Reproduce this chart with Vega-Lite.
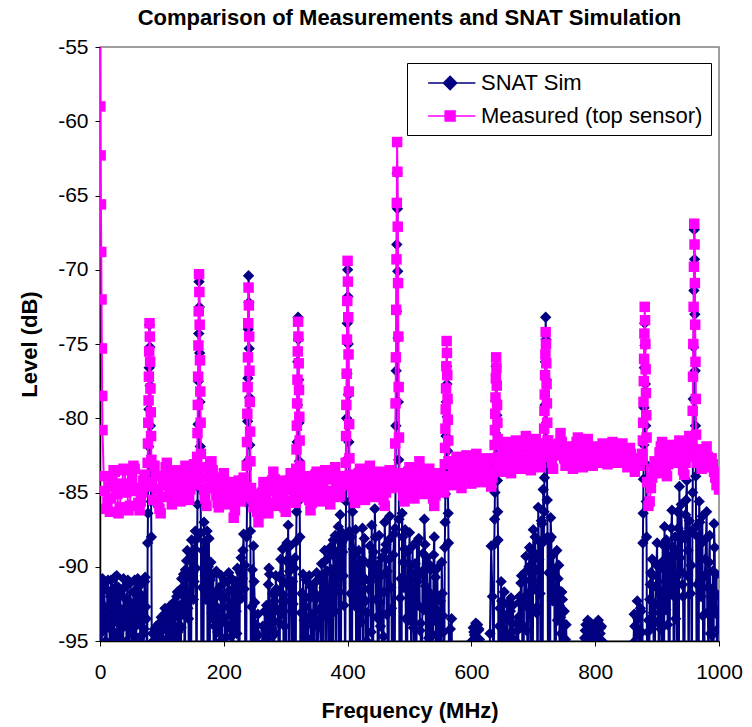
{
 "$schema": "https://vega.github.io/schema/vega-lite/v6.json",
 "width": 619, "height": 594,
 "autosize": {"type": "none"},
 "padding": {"left": 100, "top": 47, "right": 33, "bottom": 86},
 "background": "white",
 "title": {"text": "Comparison of Measurements and SNAT Simulation", "font": "Liberation Sans", "fontSize": 22, "fontWeight": "bold", "color": "black", "anchor": "middle", "offset": 6},
 "data": {"values": [
{"f":0,"S":-92.0,"M":-52},{"f":0.5,"S":-93.0,"M":-59.0},{"f":1,"S":-94.5,"M":-62.3},{"f":1.5,"S":-91.5,"M":-65.6},{"f":2,"S":-92.8,"M":-68.8},{"f":2.5,"S":-95.8,"M":-72.0},{"f":3,"S":-91.0,"M":-75.3},{"f":3.5,"S":-93.6,"M":-78.5},
{"f":4,"S":-90.8,"M":-80.8},{"f":6,"S":-93.7,"M":-83.9},{"f":8,"S":-94.2,"M":-84.9},{"f":10,"S":-100,"M":-86.1},{"f":12,"S":-91.6,"M":-85.6},{"f":14,"S":-92.9,"M":-84.6},{"f":16,"S":-95.3,"M":-86.3},{"f":18,"S":-90.9,"M":-85.4},{"f":20,"S":-92.3,"M":-84.2},{"f":22,"S":-100,"M":-83.5},{"f":24,"S":-90.7,"M":-83.6},{"f":26,"S":-93.4,"M":-84.8},{"f":28,"S":-94.8,"M":-85.1},{"f":30,"S":-91.4,"M":-86.4},{"f":32,"S":-91.9,"M":-86.0},{"f":34,"S":-100,"M":-84.7},{"f":36,"S":-93.3,"M":-84.4},{"f":38,"S":-90.8,"M":-83.4},{"f":40,"S":-94.0,"M":-83.5},{"f":42,"S":-92.2,"M":-85.0},{"f":44,"S":-91.2,"M":-84.9},{"f":46,"S":-100,"M":-86.2},{"f":48,"S":-92.6,"M":-85.9},{"f":50,"S":-94.5,"M":-84.6},{"f":52,"S":-95.5,"M":-84.1},{"f":54,"S":-91.7,"M":-83.2},{"f":56,"S":-90.9,"M":-83.4},{"f":58,"S":-100,"M":-84.9},{"f":60,"S":-93.9,"M":-84.7},{"f":62,"S":-92.0,"M":-85.7},{"f":64,"S":-91.3,"M":-86.2},{"f":66,"S":-93.1,"M":-85.6},{"f":68,"S":-94.6,"M":-85.0},{"f":70,"S":-100,"M":-84.2},{"f":72,"S":-91.0,"M":-83.8},{"f":74,"S":-92.7,"M":-84.5},{"f":76,"S":-100,"M":-84.3},
{"f":77,"S":-88.4,"M":-83.0},{"f":77.5,"S":-86.4,"M":-81.7},{"f":78,"S":-84.1,"M":-80.3},{"f":78.5,"S":-81.9,"M":-78.8},{"f":79,"S":-79.4,"M":-77.2},{"f":79.5,"S":-76.6,"M":-75.5},{"f":80,"S":-73.7,"M":-73.6},{"f":80.5,"S":-75.2,"M":-74.5},{"f":81,"S":-77.8,"M":-76.2},{"f":81.5,"S":-80.5,"M":-78.0},{"f":82,"S":-83.2,"M":-79.6},{"f":82.5,"S":-85.6,"M":-81.2},{"f":83,"S":-88.0,"M":-82.8},
{"f":84,"S":-100,"M":-84.6},{"f":86,"S":-95.0,"M":-85.5},{"f":88,"S":-94.2,"M":-83.2},{"f":90,"S":-100,"M":-83.9},{"f":92,"S":-95.6,"M":-84.8},{"f":94,"S":-94.6,"M":-85.7},{"f":96,"S":-93.8,"M":-86.1},{"f":98,"S":-100,"M":-86.4},{"f":100,"S":-94.9,"M":-85.3},{"f":102,"S":-93.6,"M":-84.5},{"f":104,"S":-93.2,"M":-83.9},{"f":106,"S":-94.1,"M":-83.3},{"f":108,"S":-92.9,"M":-83.0},{"f":110,"S":-100,"M":-83.8},{"f":112,"S":-94.3,"M":-84.6},{"f":114,"S":-92.6,"M":-85.2},{"f":116,"S":-93.5,"M":-85.8},{"f":118,"S":-95.2,"M":-84.9},{"f":120,"S":-100,"M":-84.2},{"f":122,"S":-92.9,"M":-83.7},{"f":124,"S":-92.0,"M":-83.5},{"f":126,"S":-94.4,"M":-84.1},{"f":128,"S":-93.9,"M":-84.9},{"f":130,"S":-100,"M":-85.6},{"f":132,"S":-90.8,"M":-85.4},{"f":134,"S":-93.2,"M":-84.4},{"f":136,"S":-92.4,"M":-83.7},{"f":138,"S":-90.2,"M":-83.2},{"f":140,"S":-89.6,"M":-84.4},{"f":142,"S":-92.8,"M":-85.1},{"f":144,"S":-100,"M":-85.5},{"f":146,"S":-89.1,"M":-84.8},{"f":148,"S":-88.2,"M":-84.0},{"f":150,"S":-90.4,"M":-83.5},{"f":152,"S":-91.0,"M":-83.1},{"f":154,"S":-87.6,"M":-83.8},{"f":156,"S":-100,"M":-84.5},
{"f":157,"S":-88.1,"M":-82.6},{"f":157.5,"S":-85.8,"M":-81.0},{"f":158,"S":-83.1,"M":-79.1},{"f":158.5,"S":-80.4,"M":-77.2},{"f":159,"S":-77.5,"M":-75.1},{"f":159.5,"S":-74.3,"M":-72.8},{"f":160,"S":-70.8,"M":-70.3},{"f":160.5,"S":-72.5,"M":-71.5},{"f":161,"S":-75.6,"M":-73.7},{"f":161.5,"S":-78.9,"M":-76.1},{"f":162,"S":-81.9,"M":-78.2},{"f":162.5,"S":-84.8,"M":-80.3},{"f":163,"S":-87.7,"M":-82.4},
{"f":164,"S":-100,"M":-83.3},{"f":166,"S":-88.9,"M":-84.0},{"f":168,"S":-87.0,"M":-84.8},{"f":170,"S":-90.6,"M":-85.4},{"f":172,"S":-89.5,"M":-85.9},{"f":174,"S":-100,"M":-84.7},{"f":176,"S":-88.1,"M":-83.6},{"f":178,"S":-90.9,"M":-83.1},{"f":180,"S":-91.8,"M":-82.9},{"f":182,"S":-93.5,"M":-83.5},{"f":184,"S":-100,"M":-84.1},{"f":186,"S":-92.1,"M":-84.7},{"f":188,"S":-90.3,"M":-85.2},{"f":190,"S":-94.4,"M":-85.7},{"f":192,"S":-93.6,"M":-86.0},{"f":194,"S":-100,"M":-85.3},{"f":196,"S":-90.6,"M":-84.6},{"f":198,"S":-91.9,"M":-84.0},{"f":200,"S":-92.2,"M":-83.7},{"f":202,"S":-94.8,"M":-84.3},{"f":204,"S":-100,"M":-84.9},{"f":206,"S":-91.0,"M":-85.4},{"f":208,"S":-90.4,"M":-85.8},{"f":210,"S":-93.3,"M":-85.0},{"f":212,"S":-94.7,"M":-84.3},{"f":214,"S":-100,"M":-85.6},{"f":216,"S":-91.5,"M":-86.7},{"f":218,"S":-92.6,"M":-86.2},{"f":220,"S":-93.0,"M":-85.1},{"f":222,"S":-90.1,"M":-84.6},{"f":224,"S":-100,"M":-84.2},{"f":226,"S":-91.2,"M":-84.9},{"f":228,"S":-89.4,"M":-85.6},{"f":230,"S":-90.8,"M":-85.3},{"f":232,"S":-87.8,"M":-84.0},{"f":234,"S":-89.9,"M":-84.6},{"f":236,"S":-100,"M":-85.2},
{"f":237,"S":-88.0,"M":-83.2},{"f":237.5,"S":-85.7,"M":-81.6},{"f":238,"S":-82.9,"M":-79.7},{"f":238.5,"S":-80.2,"M":-77.9},{"f":239,"S":-77.3,"M":-75.9},{"f":239.5,"S":-74.0,"M":-73.6},{"f":240,"S":-70.4,"M":-71.2},{"f":240.5,"S":-72.2,"M":-72.4},{"f":241,"S":-75.3,"M":-74.5},{"f":241.5,"S":-78.6,"M":-76.8},{"f":242,"S":-81.8,"M":-78.9},{"f":242.5,"S":-84.7,"M":-80.9},{"f":243,"S":-87.6,"M":-82.9},
{"f":244,"S":-100,"M":-84.7},{"f":246,"S":-90.2,"M":-85.4},{"f":248,"S":-88.6,"M":-86.0},{"f":250,"S":-92.4,"M":-85.7},{"f":252,"S":-93.9,"M":-85.1},{"f":254,"S":-100,"M":-86.3},{"f":256,"S":-94.6,"M":-87.0},{"f":258,"S":-100,"M":-86.4},{"f":260,"S":-98,"M":-85.8},{"f":262,"S":-95.2,"M":-85.0},{"f":264,"S":-100,"M":-84.3},{"f":266,"S":-93.0,"M":-84.8},{"f":268,"S":-94.3,"M":-85.5},{"f":270,"S":-100,"M":-86.1},{"f":272,"S":-91.2,"M":-86.4},{"f":274,"S":-90.5,"M":-85.7},{"f":276,"S":-92.8,"M":-84.9},{"f":278,"S":-94.1,"M":-84.2},{"f":280,"S":-100,"M":-83.6},{"f":282,"S":-92.3,"M":-84.1},{"f":284,"S":-90.6,"M":-84.8},{"f":286,"S":-91.7,"M":-85.3},{"f":288,"S":-93.7,"M":-85.9},{"f":290,"S":-100,"M":-85.1},{"f":292,"S":-89.5,"M":-84.2},{"f":294,"S":-90.9,"M":-84.7},{"f":296,"S":-91.9,"M":-85.4},{"f":298,"S":-94.0,"M":-86.0},{"f":300,"S":-100,"M":-86.3},{"f":302,"S":-88.4,"M":-85.6},{"f":304,"S":-87.2,"M":-84.8},{"f":306,"S":-90.3,"M":-84.2},{"f":308,"S":-89.8,"M":-83.7},{"f":310,"S":-100,"M":-84.0},{"f":312,"S":-92.5,"M":-84.6},{"f":314,"S":-90.1,"M":-85.1},{"f":316,"S":-100,"M":-85.7},
{"f":317,"S":-88.3,"M":-83.4},{"f":317.5,"S":-86.3,"M":-82.1},{"f":318,"S":-84.0,"M":-80.5},{"f":318.5,"S":-81.6,"M":-79.0},{"f":319,"S":-79.1,"M":-77.4},{"f":319.5,"S":-76.2,"M":-75.5},{"f":320,"S":-73.2,"M":-73.5},{"f":320.5,"S":-74.7,"M":-74.5},{"f":321,"S":-77.4,"M":-76.3},{"f":321.5,"S":-80.3,"M":-78.1},{"f":322,"S":-82.9,"M":-79.9},{"f":322.5,"S":-85.5,"M":-81.5},{"f":323,"S":-88.0,"M":-83.2},
{"f":324,"S":-100,"M":-84.0},{"f":326,"S":-91.8,"M":-84.7},{"f":328,"S":-90.5,"M":-85.3},{"f":330,"S":-93.6,"M":-84.6},{"f":332,"S":-92.7,"M":-83.9},{"f":334,"S":-94.8,"M":-84.2},{"f":336,"S":-100,"M":-84.8},{"f":338,"S":-90.6,"M":-85.5},{"f":340,"S":-91.3,"M":-86.2},{"f":342,"S":-93.2,"M":-85.7},{"f":344,"S":-94.0,"M":-85.0},{"f":346,"S":-100,"M":-84.4},{"f":348,"S":-92.2,"M":-83.8},{"f":350,"S":-90.4,"M":-83.6},{"f":352,"S":-95.5,"M":-84.4},{"f":354,"S":-92.9,"M":-85.0},{"f":356,"S":-90.9,"M":-85.6},{"f":358,"S":-89.8,"M":-85.2},{"f":360,"S":-100,"M":-84.7},{"f":362,"S":-91.4,"M":-84.0},{"f":364,"S":-89.6,"M":-83.5},{"f":366,"S":-93.0,"M":-84.1},{"f":368,"S":-91.8,"M":-84.9},{"f":370,"S":-100,"M":-85.4},{"f":372,"S":-88.7,"M":-85.8},{"f":374,"S":-90.2,"M":-84.9},{"f":376,"S":-100,"M":-84.1},{"f":378,"S":-89.3,"M":-83.6},{"f":380,"S":-87.9,"M":-83.3},{"f":382,"S":-91.1,"M":-84.0},{"f":384,"S":-90.1,"M":-84.6},{"f":386,"S":-100,"M":-85.3},{"f":388,"S":-86.5,"M":-85.2},{"f":390,"S":-88.4,"M":-84.5},{"f":392,"S":-89.0,"M":-83.9},{"f":394,"S":-92.6,"M":-84.2},{"f":396,"S":-100,"M":-84.5},
{"f":397,"S":-88.0,"M":-83.0},{"f":397.5,"S":-85.6,"M":-81.2},{"f":398,"S":-82.8,"M":-79.1},{"f":398.5,"S":-80.0,"M":-77.0},{"f":399,"S":-77.0,"M":-74.7},{"f":399.5,"S":-73.6,"M":-72.1},{"f":400,"S":-70.0,"M":-69.4},{"f":400.5,"S":-71.8,"M":-70.8},{"f":401,"S":-75.0,"M":-73.2},{"f":401.5,"S":-78.4,"M":-75.7},{"f":402,"S":-81.6,"M":-78.2},{"f":402.5,"S":-84.6,"M":-80.4},{"f":403,"S":-87.6,"M":-82.7},
{"f":404,"S":-100,"M":-83.8},{"f":406,"S":-88.0,"M":-84.3},{"f":408,"S":-86.3,"M":-84.9},{"f":410,"S":-90.7,"M":-85.3},{"f":412,"S":-89.2,"M":-85.7},{"f":414,"S":-100,"M":-84.8},{"f":416,"S":-91.6,"M":-84.2},{"f":418,"S":-88.9,"M":-83.7},{"f":420,"S":-100,"M":-83.4},{"f":422,"S":-93.7,"M":-84.1},{"f":424,"S":-87.4,"M":-84.8},{"f":426,"S":-89.6,"M":-85.2},{"f":428,"S":-90.8,"M":-85.5},{"f":430,"S":-100,"M":-84.7},{"f":432,"S":-93.1,"M":-84.0},{"f":434,"S":-91.5,"M":-83.6},{"f":436,"S":-88.6,"M":-83.2},{"f":438,"S":-94.4,"M":-83.9},{"f":440,"S":-100,"M":-84.4},{"f":442,"S":-89.0,"M":-84.9},{"f":444,"S":-86.1,"M":-85.3},{"f":446,"S":-92.2,"M":-84.7},{"f":448,"S":-89.9,"M":-84.1},{"f":450,"S":-100,"M":-83.8},{"f":452,"S":-92.4,"M":-83.6},{"f":454,"S":-90.6,"M":-84.3},{"f":456,"S":-100,"M":-84.9},{"f":458,"S":-94.7,"M":-85.5},{"f":460,"S":-87.0,"M":-85.9},{"f":462,"S":-88.5,"M":-85.0},{"f":464,"S":-90.3,"M":-84.3},{"f":466,"S":-100,"M":-83.9},{"f":468,"S":-86.6,"M":-83.5},{"f":470,"S":-91.4,"M":-84.1},{"f":472,"S":-100,"M":-84.7},{"f":474,"S":-89.2,"M":-84.4},{"f":476,"S":-100,"M":-84.0},
{"f":477,"S":-87.4,"M":-81.7},{"f":477.5,"S":-84.2,"M":-79.0},{"f":478,"S":-80.5,"M":-75.9},{"f":478.5,"S":-76.8,"M":-72.7},{"f":479,"S":-72.8,"M":-69.3},{"f":479.5,"S":-68.3,"M":-65.5},{"f":480,"S":-63.5,"M":-61.4},{"f":480.5,"S":-65.9,"M":-63.4},{"f":481,"S":-70.1,"M":-67.1},{"f":481.5,"S":-74.6,"M":-70.9},{"f":482,"S":-78.9,"M":-74.5},{"f":482.5,"S":-82.8,"M":-77.9},{"f":483,"S":-86.8,"M":-81.3},
{"f":484,"S":-100,"M":-83.7},{"f":486,"S":-90.8,"M":-84.1},{"f":488,"S":-86.4,"M":-84.6},{"f":490,"S":-89.7,"M":-85.2},{"f":492,"S":-88.8,"M":-85.6},{"f":494,"S":-93.5,"M":-84.9},{"f":496,"S":-100,"M":-84.1},{"f":498,"S":-91.2,"M":-83.6},{"f":500,"S":-87.7,"M":-83.3},{"f":502,"S":-89.9,"M":-83.8},{"f":504,"S":-91.5,"M":-84.5},{"f":506,"S":-94.1,"M":-85.0},{"f":508,"S":-100,"M":-85.4},{"f":510,"S":-90.4,"M":-84.6},{"f":512,"S":-88.3,"M":-83.9},{"f":514,"S":-92.6,"M":-83.4},{"f":516,"S":-90.6,"M":-82.9},{"f":518,"S":-93.8,"M":-83.6},{"f":520,"S":-100,"M":-84.3},{"f":522,"S":-89.1,"M":-84.7},{"f":524,"S":-86.8,"M":-85.1},{"f":526,"S":-91.3,"M":-84.5},{"f":528,"S":-89.4,"M":-84.0},{"f":530,"S":-100,"M":-83.7},{"f":532,"S":-93.0,"M":-83.4},{"f":534,"S":-90.2,"M":-84.1},{"f":536,"S":-100,"M":-84.8},{"f":538,"S":-94.6,"M":-85.4},{"f":540,"S":-88.0,"M":-85.9},{"f":542,"S":-90.7,"M":-85.2},{"f":544,"S":-91.9,"M":-84.6},{"f":546,"S":-95.1,"M":-84.0},{"f":548,"S":-100,"M":-83.7},{"f":550,"S":-92.3,"M":-84.0},{"f":552,"S":-89.7,"M":-84.4},{"f":554,"S":-93.3,"M":-84.8},{"f":556,"S":-100,"M":-85.0},
{"f":557,"S":-88.7,"M":-83.1},{"f":557.5,"S":-87.0,"M":-82.0},{"f":558,"S":-85.1,"M":-80.7},{"f":558.5,"S":-83.3,"M":-79.4},{"f":559,"S":-81.2,"M":-78.0},{"f":559.5,"S":-78.9,"M":-76.5},{"f":560,"S":-76.5,"M":-74.8},{"f":560.5,"S":-77.7,"M":-75.6},{"f":561,"S":-79.9,"M":-77.1},{"f":561.5,"S":-82.2,"M":-78.7},{"f":562,"S":-84.3,"M":-80.1},{"f":562.5,"S":-86.4,"M":-81.5},{"f":563,"S":-88.4,"M":-82.9},
{"f":564,"S":-100,"M":-83.9},{"f":566,"S":-94.2,"M":-84.3},{"f":568,"S":-93.5,"M":-84.5},{"f":570,"S":-100,"M":-83.9},{"f":572,"S":-103,"M":-83.4},{"f":574,"S":-101,"M":-82.9},{"f":576,"S":-101,"M":-82.6},{"f":578,"S":-104,"M":-83.2},{"f":580,"S":-103,"M":-83.8},{"f":582,"S":-100,"M":-84.3},{"f":584,"S":-102,"M":-84.7},{"f":586,"S":-105,"M":-83.9},{"f":588,"S":-102,"M":-83.1},{"f":590,"S":-101,"M":-82.7},{"f":592,"S":-104,"M":-82.5},{"f":594,"S":-102,"M":-83.0},{"f":596,"S":-100,"M":-83.6},{"f":598,"S":-97,"M":-84.0},{"f":600,"S":-96,"M":-84.4},{"f":602,"S":-95.2,"M":-83.7},{"f":604,"S":-94.4,"M":-83.0},{"f":606,"S":-94.0,"M":-82.6},{"f":608,"S":-94.8,"M":-82.4},{"f":610,"S":-93.9,"M":-83.1},{"f":612,"S":-94.2,"M":-83.7},{"f":614,"S":-95.3,"M":-84.0},{"f":616,"S":-99,"M":-84.3},{"f":618,"S":-102,"M":-83.8},{"f":620,"S":-103,"M":-83.2},{"f":622,"S":-104,"M":-82.9},{"f":624,"S":-101,"M":-82.7},{"f":626,"S":-103,"M":-83.3},{"f":628,"S":-100,"M":-83.9},{"f":630,"S":-94.5,"M":-84.2},{"f":632,"S":-88.6,"M":-84.6},{"f":634,"S":-92.0,"M":-84.0},{"f":636,"S":-100,"M":-83.5},
{"f":637,"S":-88.5,"M":-82.7},{"f":637.5,"S":-86.8,"M":-81.8},{"f":638,"S":-85.0,"M":-80.8},{"f":638.5,"S":-83.1,"M":-79.7},{"f":639,"S":-81.0,"M":-78.6},{"f":639.5,"S":-78.8,"M":-77.3},{"f":640,"S":-76.5,"M":-75.9},{"f":640.5,"S":-77.6,"M":-76.6},{"f":641,"S":-79.8,"M":-77.8},{"f":641.5,"S":-82.0,"M":-79.1},{"f":642,"S":-84.2,"M":-80.3},{"f":642.5,"S":-86.3,"M":-81.4},{"f":643,"S":-88.2,"M":-82.6},
{"f":644,"S":-100,"M":-82.8},{"f":646,"S":-92.8,"M":-83.2},{"f":648,"S":-91.0,"M":-83.6},{"f":650,"S":-94.1,"M":-83.0},{"f":652,"S":-93.2,"M":-82.4},{"f":654,"S":-100,"M":-82.0},{"f":656,"S":-94.6,"M":-81.6},{"f":658,"S":-92.5,"M":-82.2},{"f":660,"S":-100,"M":-82.9},{"f":662,"S":-95.0,"M":-83.3},{"f":664,"S":-92.1,"M":-83.7},{"f":666,"S":-93.8,"M":-82.9},{"f":668,"S":-94.9,"M":-82.3},{"f":670,"S":-100,"M":-81.8},{"f":672,"S":-100,"M":-81.5},{"f":674,"S":-94.3,"M":-82.0},{"f":676,"S":-93.4,"M":-82.6},{"f":678,"S":-92.0,"M":-83.0},{"f":680,"S":-91.1,"M":-83.4},{"f":682,"S":-93.9,"M":-82.7},{"f":684,"S":-100,"M":-82.0},{"f":686,"S":-90.4,"M":-81.6},{"f":688,"S":-89.3,"M":-81.2},{"f":690,"S":-92.6,"M":-82.0},{"f":692,"S":-91.8,"M":-82.8},{"f":694,"S":-88.7,"M":-83.1},{"f":696,"S":-100,"M":-83.5},{"f":698,"S":-90.9,"M":-82.8},{"f":700,"S":-87.5,"M":-82.2},{"f":702,"S":-89.1,"M":-81.7},{"f":704,"S":-90.2,"M":-81.4},{"f":706,"S":-92.7,"M":-82.0},{"f":708,"S":-86.0,"M":-82.7},{"f":710,"S":-88.3,"M":-83.0},{"f":712,"S":-100,"M":-83.3},{"f":714,"S":-87.1,"M":-82.6},{"f":716,"S":-84.8,"M":-82.0},
{"f":717,"S":-88.3,"M":-81.7},{"f":717.5,"S":-86.3,"M":-80.7},{"f":718,"S":-84.0,"M":-79.5},{"f":718.5,"S":-81.6,"M":-78.4},{"f":719,"S":-79.1,"M":-77.1},{"f":719.5,"S":-76.2,"M":-75.7},{"f":720,"S":-73.2,"M":-74.2},{"f":720.5,"S":-74.7,"M":-75.0},{"f":721,"S":-77.4,"M":-76.3},{"f":721.5,"S":-80.3,"M":-77.7},{"f":722,"S":-82.9,"M":-79.0},{"f":722.5,"S":-85.5,"M":-80.3},{"f":723,"S":-88.0,"M":-81.5},
{"f":724,"S":-100,"M":-81.5},{"f":726,"S":-88.2,"M":-82.0},{"f":728,"S":-86.7,"M":-82.6},{"f":730,"S":-90.5,"M":-83.0},{"f":732,"S":-89.2,"M":-83.4},{"f":734,"S":-92.1,"M":-82.5},{"f":736,"S":-100,"M":-81.8},{"f":738,"S":-88.9,"M":-81.9},{"f":740,"S":-90.8,"M":-82.4},{"f":742,"S":-92.6,"M":-81.7},{"f":744,"S":-93.4,"M":-81.0},{"f":746,"S":-91.7,"M":-81.6},{"f":748,"S":-100,"M":-82.1},{"f":750,"S":-93.0,"M":-82.7},{"f":752,"S":-94.9,"M":-83.2},{"f":754,"S":-95.6,"M":-82.5},{"f":756,"S":-101,"M":-81.9},{"f":758,"S":-103,"M":-82.2},{"f":760,"S":-104,"M":-82.6},{"f":762,"S":-102,"M":-83.0},{"f":764,"S":-102,"M":-83.4},{"f":766,"S":-104,"M":-82.7},{"f":768,"S":-105,"M":-82.0},{"f":770,"S":-103,"M":-81.6},{"f":772,"S":-101,"M":-81.3},{"f":774,"S":-102,"M":-81.9},{"f":776,"S":-103,"M":-82.5},{"f":778,"S":-101,"M":-82.9},{"f":780,"S":-100,"M":-83.3},{"f":782,"S":-95.2,"M":-82.6},{"f":784,"S":-94.3,"M":-82.1},{"f":786,"S":-95.5,"M":-81.7},{"f":788,"S":-93.6,"M":-81.4},{"f":790,"S":-94.1,"M":-82.0},{"f":792,"S":-94.7,"M":-82.7},{"f":794,"S":-95.3,"M":-83.0},{"f":796,"S":-94.0,"M":-83.2},{"f":798,"S":-100,"M":-82.6},{"f":800,"S":-94.9,"M":-81.9},{"f":802,"S":-93.9,"M":-82.1},{"f":804,"S":-93.8,"M":-82.4},{"f":806,"S":-95.1,"M":-82.8},{"f":808,"S":-94.5,"M":-83.0},{"f":810,"S":-94.0,"M":-82.3},{"f":812,"S":-95.6,"M":-81.7},{"f":814,"S":-98,"M":-81.9},{"f":816,"S":-100,"M":-82.3},{"f":818,"S":-102,"M":-82.8},{"f":820,"S":-103,"M":-83.1},{"f":822,"S":-104,"M":-82.9},{"f":824,"S":-105,"M":-82.5},{"f":826,"S":-103,"M":-82.0},{"f":828,"S":-102,"M":-81.6},{"f":830,"S":-101,"M":-81.9},{"f":832,"S":-104,"M":-82.2},{"f":834,"S":-102,"M":-82.7},{"f":836,"S":-101,"M":-83.0},{"f":838,"S":-104,"M":-82.8},{"f":840,"S":-103,"M":-82.4},{"f":842,"S":-105,"M":-82.0},{"f":844,"S":-106,"M":-81.7},{"f":846,"S":-103,"M":-82.1},{"f":848,"S":-102,"M":-82.6},{"f":850,"S":-101,"M":-83.0},{"f":852,"S":-104,"M":-83.3},{"f":854,"S":-102,"M":-82.7},{"f":856,"S":-101,"M":-82.0},{"f":858,"S":-103,"M":-82.4},{"f":860,"S":-100,"M":-82.8},{"f":862,"S":-95.1,"M":-83.2},{"f":864,"S":-94.0,"M":-83.6},{"f":866,"S":-95.4,"M":-83.1},{"f":868,"S":-92.3,"M":-82.7},{"f":870,"S":-94.6,"M":-82.9},{"f":872,"S":-100,"M":-83.2},{"f":874,"S":-93.0,"M":-82.8},{"f":876,"S":-100,"M":-82.4},
{"f":877,"S":-88.4,"M":-81.5},{"f":877.5,"S":-86.4,"M":-80.3},{"f":878,"S":-84.1,"M":-78.9},{"f":878.5,"S":-81.8,"M":-77.5},{"f":879,"S":-79.3,"M":-76.0},{"f":879.5,"S":-76.6,"M":-74.3},{"f":880,"S":-73.6,"M":-72.5},{"f":880.5,"S":-75.1,"M":-73.4},{"f":881,"S":-77.7,"M":-75.0},{"f":881.5,"S":-80.5,"M":-76.7},{"f":882,"S":-83.1,"M":-78.3},{"f":882.5,"S":-85.6,"M":-79.8},{"f":883,"S":-88.0,"M":-81.3},
{"f":884,"S":-100,"M":-84.3},{"f":886,"S":-93.6,"M":-85.9},{"f":888,"S":-92.2,"M":-85.6},{"f":890,"S":-90.4,"M":-84.7},{"f":892,"S":-89.5,"M":-84.0},{"f":894,"S":-93.1,"M":-83.4},{"f":896,"S":-100,"M":-82.9},{"f":898,"S":-91.3,"M":-83.3},{"f":900,"S":-88.4,"M":-83.7},{"f":902,"S":-90.0,"M":-83.0},{"f":904,"S":-91.6,"M":-82.3},{"f":906,"S":-94.2,"M":-81.9},{"f":908,"S":-100,"M":-81.6},{"f":910,"S":-89.6,"M":-82.2},{"f":912,"S":-87.3,"M":-82.8},{"f":914,"S":-92.9,"M":-83.4},{"f":916,"S":-90.0,"M":-83.9},{"f":918,"S":-88.6,"M":-83.1},{"f":920,"S":-100,"M":-82.5},{"f":922,"S":-91.7,"M":-82.0},{"f":924,"S":-86.2,"M":-81.8},{"f":926,"S":-88.7,"M":-82.4},{"f":928,"S":-89.1,"M":-83.0},{"f":930,"S":-93.5,"M":-82.6},{"f":932,"S":-100,"M":-82.2},{"f":934,"S":-87.4,"M":-81.8},{"f":936,"S":-84.6,"M":-81.5},{"f":938,"S":-90.3,"M":-82.1},{"f":940,"S":-87.8,"M":-82.9},{"f":942,"S":-92.0,"M":-83.5},{"f":944,"S":-100,"M":-83.8},{"f":946,"S":-86.5,"M":-83.0},{"f":948,"S":-84.2,"M":-82.4},{"f":950,"S":-88.9,"M":-81.8},{"f":952,"S":-86.9,"M":-81.2},{"f":954,"S":-91.8,"M":-81.9},{"f":956,"S":-100,"M":-82.6},
{"f":957,"S":-87.7,"M":-81.4},{"f":957.5,"S":-85.0,"M":-79.5},{"f":958,"S":-81.8,"M":-77.2},{"f":958.5,"S":-78.7,"M":-75.0},{"f":959,"S":-75.2,"M":-72.5},{"f":959.5,"S":-71.4,"M":-69.8},{"f":960,"S":-67.3,"M":-66.9},{"f":960.5,"S":-69.3,"M":-68.3},{"f":961,"S":-73.0,"M":-70.9},{"f":961.5,"S":-76.8,"M":-73.7},{"f":962,"S":-80.5,"M":-76.2},{"f":962.5,"S":-83.9,"M":-78.7},{"f":963,"S":-87.3,"M":-81.1},
{"f":964,"S":-100,"M":-83.0},{"f":966,"S":-88.0,"M":-82.6},{"f":968,"S":-85.6,"M":-82.1},{"f":970,"S":-90.9,"M":-82.7},{"f":972,"S":-88.4,"M":-83.4},{"f":974,"S":-93.3,"M":-83.0},{"f":976,"S":-100,"M":-82.5},{"f":978,"S":-89.5,"M":-82.2},{"f":980,"S":-86.3,"M":-81.9},{"f":982,"S":-91.4,"M":-82.6},{"f":984,"S":-89.7,"M":-83.3},{"f":986,"S":-94.5,"M":-83.0},{"f":988,"S":-100,"M":-82.7},{"f":990,"S":-90.3,"M":-83.1},{"f":992,"S":-87.1,"M":-83.6},{"f":994,"S":-93.0,"M":-84.0},{"f":996,"S":-90.5,"M":-84.5},{"f":998,"S":-94.2,"M":-84.2},{"f":1000,"S":-92.0,"M":-84.8},
{"f":5,"S":-92.6},{"f":7,"S":-91.1},{"f":9,"S":-95.0},{"f":11,"S":-93.4},{"f":13,"S":-90.9},{"f":15,"S":-94.1},{"f":17,"S":-92.0},{"f":19,"S":-100},{"f":21,"S":-91.5},{"f":23,"S":-94.4},{"f":25,"S":-92.7},{"f":27,"S":-90.6},{"f":29,"S":-93.8},{"f":31,"S":-95.2},{"f":33,"S":-91.8},{"f":35,"S":-92.9},{"f":37,"S":-100},{"f":39,"S":-91.4},{"f":41,"S":-93.6},{"f":43,"S":-95.0},{"f":45,"S":-90.9},{"f":47,"S":-92.3},{"f":49,"S":-91.1},{"f":51,"S":-93.0},{"f":53,"S":-100},{"f":55,"S":-92.5},{"f":57,"S":-94.7},{"f":59,"S":-91.6},{"f":61,"S":-90.8},{"f":63,"S":-93.3},{"f":65,"S":-95.1},{"f":67,"S":-91.9},{"f":69,"S":-92.4},{"f":71,"S":-94.2},{"f":73,"S":-90.7},{"f":75,"S":-93.5},
{"f":85,"S":-94.5},{"f":87,"S":-100},{"f":89,"S":-95.3},{"f":91,"S":-94.0},{"f":93,"S":-95.8},{"f":95,"S":-100},{"f":97,"S":-94.7},{"f":99,"S":-93.4},{"f":101,"S":-95.4},{"f":103,"S":-94.2},{"f":105,"S":-92.8},{"f":107,"S":-100},{"f":109,"S":-93.7},{"f":111,"S":-95.0},{"f":113,"S":-93.1},{"f":115,"S":-94.6},{"f":117,"S":-100},{"f":119,"S":-92.4},{"f":121,"S":-94.8},{"f":123,"S":-93.3},{"f":125,"S":-91.7},{"f":127,"S":-100},{"f":129,"S":-92.6},{"f":131,"S":-94.1},{"f":133,"S":-91.4},{"f":135,"S":-90.5},{"f":137,"S":-100},{"f":139,"S":-91.9},{"f":141,"S":-88.9},{"f":143,"S":-93.5},{"f":145,"S":-90.7},{"f":147,"S":-100},{"f":149,"S":-89.3},{"f":151,"S":-92.2},{"f":153,"S":-88.8},{"f":155,"S":-90.1},
{"f":165,"S":-91.4},{"f":167,"S":-100},{"f":169,"S":-88.3},{"f":171,"S":-92.2},{"f":173,"S":-87.6},{"f":175,"S":-90.0},{"f":177,"S":-100},{"f":179,"S":-89.7},{"f":181,"S":-93.1},{"f":183,"S":-90.5},{"f":185,"S":-94.0},{"f":187,"S":-100},{"f":189,"S":-91.6},{"f":191,"S":-92.8},{"f":193,"S":-95.1},{"f":195,"S":-91.3},{"f":197,"S":-100},{"f":199,"S":-93.4},{"f":201,"S":-90.9},{"f":203,"S":-93.8},{"f":205,"S":-100},{"f":207,"S":-92.7},{"f":209,"S":-91.6},{"f":211,"S":-94.2},{"f":213,"S":-90.8},{"f":215,"S":-100},{"f":217,"S":-93.9},{"f":219,"S":-91.0},{"f":221,"S":-94.5},{"f":223,"S":-92.3},{"f":225,"S":-100},{"f":227,"S":-90.4},{"f":229,"S":-92.1},{"f":231,"S":-88.9},{"f":233,"S":-91.5},{"f":235,"S":-100},
{"f":245,"S":-92.7},{"f":247,"S":-100},{"f":249,"S":-91.0},{"f":251,"S":-95.0},{"f":253,"S":-100},{"f":255,"S":-93.2},{"f":257,"S":-100},{"f":259,"S":-95.4},{"f":261,"S":-100},{"f":263,"S":-94.0},{"f":265,"S":-100},{"f":267,"S":-95.2},{"f":269,"S":-92.6},{"f":271,"S":-94.8},{"f":273,"S":-90.1},{"f":275,"S":-100},{"f":277,"S":-93.6},{"f":279,"S":-91.8},{"f":281,"S":-100},{"f":283,"S":-94.5},{"f":285,"S":-91.5},{"f":287,"S":-92.9},{"f":289,"S":-100},{"f":291,"S":-90.6},{"f":293,"S":-93.2},{"f":295,"S":-88.8},{"f":297,"S":-100},{"f":299,"S":-92.3},{"f":301,"S":-89.6},{"f":303,"S":-91.2},{"f":305,"S":-100},{"f":307,"S":-88.6},{"f":309,"S":-93.0},{"f":311,"S":-91.0},{"f":313,"S":-100},{"f":315,"S":-89.4},
{"f":325,"S":-93.1},{"f":327,"S":-100},{"f":329,"S":-91.9},{"f":331,"S":-94.7},{"f":333,"S":-90.9},{"f":335,"S":-100},{"f":337,"S":-93.5},{"f":339,"S":-92.1},{"f":341,"S":-95.0},{"f":343,"S":-100},{"f":345,"S":-91.7},{"f":347,"S":-93.8},{"f":349,"S":-91.0},{"f":351,"S":-100},{"f":353,"S":-94.1},{"f":355,"S":-92.0},{"f":357,"S":-100},{"f":359,"S":-90.6},{"f":361,"S":-93.3},{"f":363,"S":-88.9},{"f":365,"S":-100},{"f":367,"S":-90.3},{"f":369,"S":-92.7},{"f":371,"S":-89.2},{"f":373,"S":-100},{"f":375,"S":-91.5},{"f":377,"S":-88.2},{"f":379,"S":-93.0},{"f":381,"S":-100},{"f":383,"S":-89.0},{"f":385,"S":-87.3},{"f":387,"S":-91.7},{"f":389,"S":-100},{"f":391,"S":-87.7},{"f":393,"S":-90.6},{"f":395,"S":-88.1},
{"f":405,"S":-91.8},{"f":407,"S":-100},{"f":409,"S":-88.8},{"f":411,"S":-92.6},{"f":413,"S":-87.5},{"f":415,"S":-90.0},{"f":417,"S":-100},{"f":419,"S":-92.9},{"f":421,"S":-89.6},{"f":423,"S":-91.1},{"f":425,"S":-100},{"f":427,"S":-88.1},{"f":429,"S":-92.3},{"f":431,"S":-95.0},{"f":433,"S":-100},{"f":435,"S":-89.8},{"f":437,"S":-91.0},{"f":439,"S":-87.2},{"f":441,"S":-100},{"f":443,"S":-90.5},{"f":445,"S":-88.0},{"f":447,"S":-93.4},{"f":449,"S":-100},{"f":451,"S":-87.9},{"f":453,"S":-94.0},{"f":455,"S":-89.4},{"f":457,"S":-100},{"f":459,"S":-91.7},{"f":461,"S":-88.9},{"f":463,"S":-93.2},{"f":465,"S":-100},{"f":467,"S":-89.5},{"f":469,"S":-88.1},{"f":471,"S":-92.8},{"f":473,"S":-100},{"f":475,"S":-87.8},
{"f":485,"S":-92.1},{"f":487,"S":-100},{"f":489,"S":-88.0},{"f":491,"S":-91.4},{"f":493,"S":-87.5},{"f":495,"S":-100},{"f":497,"S":-89.0},{"f":499,"S":-93.6},{"f":501,"S":-90.8},{"f":503,"S":-100},{"f":505,"S":-88.6},{"f":507,"S":-92.7},{"f":509,"S":-89.8},{"f":511,"S":-100},{"f":513,"S":-91.0},{"f":515,"S":-88.1},{"f":517,"S":-94.3},{"f":519,"S":-100},{"f":521,"S":-90.3},{"f":523,"S":-92.9},{"f":525,"S":-88.5},{"f":527,"S":-100},{"f":529,"S":-91.6},{"f":531,"S":-94.8},{"f":533,"S":-89.9},{"f":535,"S":-100},{"f":537,"S":-92.0},{"f":539,"S":-89.2},{"f":541,"S":-93.6},{"f":543,"S":-100},{"f":545,"S":-90.1},{"f":547,"S":-93.0},{"f":549,"S":-95.2},{"f":551,"S":-100},{"f":553,"S":-91.8},{"f":555,"S":-94.4},
{"f":601,"S":-95.0},{"f":603,"S":-94.1},{"f":605,"S":-94.6},{"f":607,"S":-93.8},{"f":609,"S":-95.1},{"f":611,"S":-94.3},{"f":613,"S":-94.9},
{"f":645,"S":-94.0},{"f":647,"S":-100},{"f":649,"S":-92.3},{"f":651,"S":-95.1},{"f":653,"S":-91.7},{"f":655,"S":-100},{"f":657,"S":-93.5},{"f":659,"S":-95.3},{"f":661,"S":-100},{"f":663,"S":-93.0},{"f":665,"S":-94.4},{"f":667,"S":-92.6},{"f":669,"S":-100},{"f":671,"S":-95.0},{"f":673,"S":-93.8},{"f":675,"S":-100},{"f":677,"S":-92.4},{"f":679,"S":-94.1},{"f":681,"S":-90.6},{"f":683,"S":-100},{"f":685,"S":-92.2},{"f":687,"S":-90.9},{"f":689,"S":-94.3},{"f":691,"S":-100},{"f":693,"S":-90.0},{"f":695,"S":-92.9},{"f":697,"S":-88.9},{"f":699,"S":-100},{"f":701,"S":-91.5},{"f":703,"S":-88.0},{"f":705,"S":-93.1},{"f":707,"S":-100},{"f":709,"S":-89.5},{"f":711,"S":-91.8},{"f":713,"S":-86.9},{"f":715,"S":-100},
{"f":725,"S":-90.4},{"f":727,"S":-100},{"f":729,"S":-88.0},{"f":731,"S":-92.3},{"f":733,"S":-90.2},{"f":735,"S":-100},{"f":737,"S":-91.4},{"f":739,"S":-93.6},{"f":741,"S":-89.9},{"f":743,"S":-100},{"f":745,"S":-94.5},{"f":747,"S":-92.2},{"f":749,"S":-95.3},{"f":751,"S":-100},{"f":753,"S":-93.9},{"f":755,"S":-95.4},
{"f":783,"S":-94.8},{"f":785,"S":-93.9},{"f":787,"S":-95.2},{"f":789,"S":-94.4},{"f":791,"S":-95.0},{"f":793,"S":-93.8},{"f":795,"S":-94.6},{"f":797,"S":-95.4},{"f":799,"S":-94.2},{"f":801,"S":-95.1},{"f":803,"S":-94.5},{"f":805,"S":-93.6},{"f":807,"S":-95.3},{"f":809,"S":-94.1},{"f":811,"S":-95.0},{"f":813,"S":-100},
{"f":863,"S":-93.2},{"f":865,"S":-100},{"f":867,"S":-94.1},{"f":869,"S":-93.5},{"f":871,"S":-95.3},{"f":873,"S":-92.8},{"f":875,"S":-94.4},
{"f":885,"S":-94.4},{"f":887,"S":-100},{"f":889,"S":-91.2},{"f":891,"S":-94.0},{"f":893,"S":-90.6},{"f":895,"S":-100},{"f":897,"S":-92.5},{"f":899,"S":-89.8},{"f":901,"S":-93.7},{"f":903,"S":-100},{"f":905,"S":-90.1},{"f":907,"S":-92.8},{"f":909,"S":-88.5},{"f":911,"S":-100},{"f":913,"S":-91.0},{"f":915,"S":-88.2},{"f":917,"S":-93.9},{"f":919,"S":-100},{"f":921,"S":-89.3},{"f":923,"S":-87.4},{"f":925,"S":-91.9},{"f":927,"S":-100},{"f":929,"S":-88.0},{"f":931,"S":-90.7},{"f":933,"S":-86.3},{"f":935,"S":-100},{"f":937,"S":-89.4},{"f":939,"S":-85.8},{"f":941,"S":-91.2},{"f":943,"S":-100},{"f":945,"S":-88.1},{"f":947,"S":-85.5},{"f":949,"S":-90.6},{"f":951,"S":-100},{"f":953,"S":-87.6},{"f":955,"S":-89.9},
{"f":965,"S":-91.2},{"f":967,"S":-100},{"f":969,"S":-87.0},{"f":971,"S":-92.0},{"f":973,"S":-86.6},{"f":975,"S":-100},{"f":977,"S":-90.6},{"f":979,"S":-88.1},{"f":981,"S":-93.1},{"f":983,"S":-100},{"f":985,"S":-87.9},{"f":987,"S":-91.5},{"f":989,"S":-94.6},{"f":991,"S":-100},{"f":993,"S":-88.7},{"f":995,"S":-91.8},{"f":997,"S":-100},{"f":999,"S":-93.3}
 ]},
 "transform": [{"fold": ["S", "M"], "as": ["k", "v"]}, {"filter": "isValid(datum.v)"}],
 "encoding": {
  "x": {"field": "f", "type": "quantitative", "scale": {"domain": [0, 1000], "nice": false, "zero": false},
        "axis": {"values": [0, 200, 400, 600, 800, 1000], "format": "d", "title": "Frequency (MHz)", "grid": false, "domainColor": "black", "domainWidth": 1.5, "tickColor": "black", "tickSize": 5, "labelFont": "Liberation Sans", "labelFontSize": 21, "labelColor": "black", "labelPadding": 15, "labelFlush": false, "titleFont": "Liberation Sans", "titleFontSize": 22, "titleFontWeight": "bold", "titleColor": "black", "titlePadding": 18}},
  "y": {"field": "v", "type": "quantitative", "scale": {"domain": [-95, -55], "nice": false, "zero": false},
        "axis": {"values": [-95, -90, -85, -80, -75, -70, -65, -60, -55], "labelExpr": "'' + datum.value", "title": "Level (dB)", "grid": false, "domainColor": "black", "domainWidth": 1.5, "tickColor": "black", "tickSize": 5, "labelFont": "Liberation Sans", "labelFontSize": 21, "labelColor": "black", "labelPadding": 7, "titleFont": "Liberation Sans", "titleFontSize": 22, "titleFontWeight": "bold", "titleColor": "black", "titlePadding": 16}},
  "color": {"field": "k", "type": "nominal", "scale": {"domain": ["S", "M"], "range": ["#000080", "#FF00FF"]},
        "legend": {"orient": "none", "legendX": 307, "legendY": 16, "title": null, "direction": "vertical",
                   "labelExpr": "datum.value === 'S' ? 'SNAT Sim' : 'Measured (top sensor)'",
                   "labelFont": "Liberation Sans", "labelFontSize": 22, "labelColor": "black", "labelOffset": 42, "labelLimit": 0,
                   "symbolSize": 484, "padding": 8, "rowPadding": 10, "strokeColor": "black", "fillColor": "white",
                   "encoding": {"symbols": {
                      "shape": {"value": {"expr": "datum.value === 'S' ? 'M0.1,0H4.4M2.1,-0.6L2.7,0L2.1,0.6L1.5,0Z' : 'M0.1,0H4.4M1.65,-0.45H2.55V0.45H1.65Z'"}},
                      "fill": {"value": {"expr": "datum.value === 'S' ? '#000080' : '#FF00FF'"}},
                      "stroke": {"value": {"expr": "datum.value === 'S' ? '#000080' : '#FF00FF'"}},
                      "strokeWidth": {"value": 1.5},
                      "opacity": {"value": 1}}}}}
 },
 "layer": [
  {"transform": [{"filter": "datum.k === 'S'"}], "mark": {"type": "line", "strokeWidth": 2, "clip": true}},
  {"transform": [{"filter": "datum.k === 'S'"}], "mark": {"type": "point", "shape": "diamond", "filled": true, "size": 130, "opacity": 1, "clip": true}},
  {"transform": [{"filter": "datum.k === 'M'"}], "mark": {"type": "line", "strokeWidth": 2, "clip": true}},
  {"transform": [{"filter": "datum.k === 'M'"}], "mark": {"type": "point", "shape": "square", "filled": true, "size": 110, "opacity": 1, "clip": true}}
 ],
 "config": {"view": {"stroke": "#808080", "strokeWidth": 1.5}}
}
